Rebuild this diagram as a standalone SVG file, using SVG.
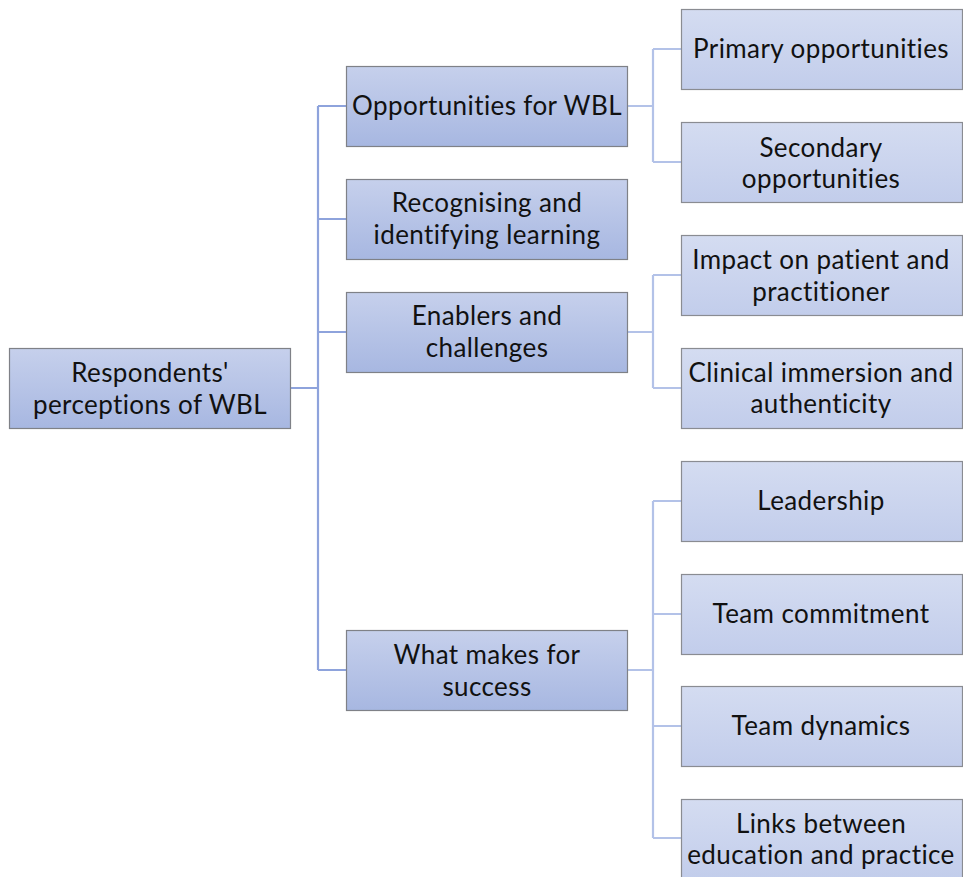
<svg xmlns="http://www.w3.org/2000/svg" width="963" height="877" viewBox="0 0 963 877">
<defs>
<linearGradient id="g1" x1="0" y1="0" x2="0" y2="1">
<stop offset="0" stop-color="#c6d0ec"/>
<stop offset="1" stop-color="#a7b7e1"/>
</linearGradient>
<linearGradient id="g2" x1="0" y1="0" x2="0" y2="1">
<stop offset="0" stop-color="#d4dcf1"/>
<stop offset="1" stop-color="#c2cdeb"/>
</linearGradient>
</defs>
<style>
.b1{fill:url(#g1);stroke:#7f8187;stroke-width:1.2}
.b2{fill:url(#g2);stroke:#8a8c92;stroke-width:1.2}
.t{font-family:Lato,"Open Sans",sans-serif;font-size:26px;letter-spacing:0.4px;fill:#111;text-anchor:middle;dominant-baseline:central}
.c1{fill:none;stroke:#8ea3dc;stroke-width:2.2}
.c2{fill:none;stroke:#b3c2e8;stroke-width:2.2}
</style>
<rect width="963" height="877" fill="#fff"/>
<g id="connectors">
<path class="c1" d="M290 388H318M318 106V670M318 106H346M318 219H346M318 332H346M318 670H346"/>
<path class="c2" d="M627 106H653M653 49V162M653 49H681M653 162H681"/>
<path class="c2" d="M627 332H653M653 275V388M653 275H681M653 388H681"/>
<path class="c2" d="M627 670H653M653 501V838M653 501H681M653 614H681M653 726H681M653 838H681"/>
</g>
<g id="root"><rect class="b1" x="9.5" y="348.5" width="281" height="80"/><text class="t" x="150" y="372">Respondents'</text><text class="t" x="150" y="403.5">perceptions of WBL</text></g>
<g id="opportunities"><rect class="b1" x="346.5" y="66.5" width="281" height="80"/><text class="t" x="487" y="105">Opportunities for WBL</text></g>
<g id="recognising"><rect class="b1" x="346.5" y="179.5" width="281" height="80"/><text class="t" x="487" y="202">Recognising and</text><text class="t" x="487" y="233.5">identifying learning</text></g>
<g id="enablers"><rect class="b1" x="346.5" y="292.5" width="281" height="80"/><text class="t" x="487" y="315">Enablers and</text><text class="t" x="487" y="346.5">challenges</text></g>
<g id="success"><rect class="b1" x="346.5" y="630.5" width="281" height="80"/><text class="t" x="487" y="654">What makes for</text><text class="t" x="487" y="685.5">success</text></g>
<g id="primary"><rect class="b2" x="681.5" y="9.5" width="281" height="80"/><text class="t" x="821" y="48">Primary opportunities</text></g>
<g id="secondary"><rect class="b2" x="681.5" y="122.5" width="281" height="80"/><text class="t" x="821" y="146.5">Secondary</text><text class="t" x="821" y="178">opportunities</text></g>
<g id="impact"><rect class="b2" x="681.5" y="235.5" width="281" height="80"/><text class="t" x="821" y="259">Impact on patient and</text><text class="t" x="821" y="290.5">practitioner</text></g>
<g id="clinical"><rect class="b2" x="681.5" y="348.5" width="281" height="80"/><text class="t" x="821" y="371.5">Clinical immersion and</text><text class="t" x="821" y="403">authenticity</text></g>
<g id="leadership"><rect class="b2" x="681.5" y="461.5" width="281" height="80"/><text class="t" x="821" y="500">Leadership</text></g>
<g id="commitment"><rect class="b2" x="681.5" y="574.5" width="281" height="80"/><text class="t" x="821" y="613">Team commitment</text></g>
<g id="dynamics"><rect class="b2" x="681.5" y="686.5" width="281" height="80"/><text class="t" x="821" y="725">Team dynamics</text></g>
<g id="links"><rect class="b2" x="681.5" y="799.5" width="281" height="80"/><text class="t" x="821" y="822.5">Links between</text><text class="t" x="821" y="854">education and practice</text></g>
</svg>
